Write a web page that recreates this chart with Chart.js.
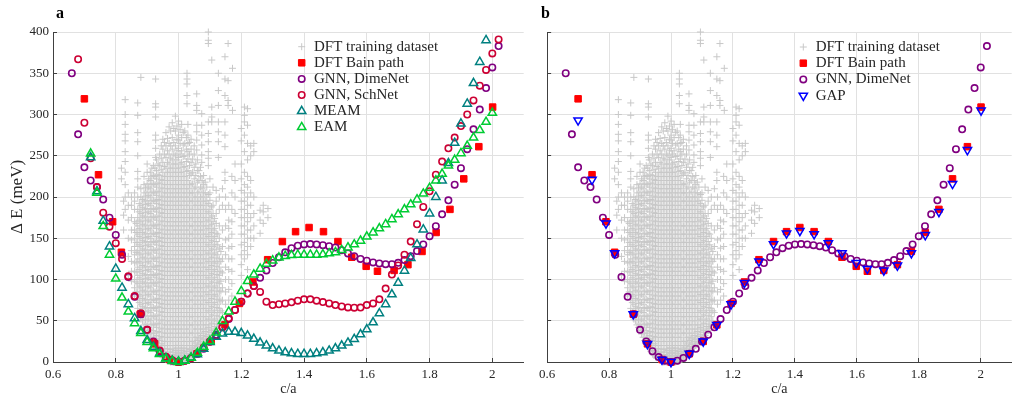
<!DOCTYPE html>
<html><head><meta charset="utf-8">
<script src="https://cdn.jsdelivr.net/npm/chart.js@4.4.1/dist/chart.umd.min.js"></script>
<style>
html,body{margin:0;padding:0;background:#fff;overflow:hidden;width:1013px;height:398px}
#ca{position:absolute;left:0;top:0}
#cb{position:absolute;left:530px;top:0}
</style></head><body>
<canvas id="ca" width="530" height="398"></canvas>
<canvas id="cb" width="488" height="398"></canvas>
<script>
// ---------------- data ----------------
const xTickValues = [0.6, 0.8, 1.0, 1.2, 1.4, 1.6, 1.8, 2.0];
const xTickLabels = ['0.6', '0.8', '1', '1.2', '1.4', '1.6', '1.8', '2'];
const yTickValues = [0, 50, 100, 150, 200, 250, 300, 350, 400];
const yTickLabels = ['0', '50', '100', '150', '200', '250', '300', '350', '400'];

const bainX = [0.70,0.745,0.79,0.818,0.878,0.924,0.971,1.0,1.059,1.104,1.148,1.194,1.237,1.284,1.331,1.373,1.416,1.462,1.508,1.552,1.598,1.634,1.687,1.731,1.776,1.821,1.865,1.909,1.957,2.001];
const bainY = [319,227,170,133,58,22,3,0,10,25,45,71,97,124,146,158,163,158,146,127,116,110,111,118,134,157,185,222,261,309];
const gapY  = [293,221,168,132,58,22,3,0,10,25,45,70,96,122,143,156,159,155,144,132,120,113,111,117,132,154,182,216,257,305];

const dimenetX = [0.66,0.68,0.70,0.72,0.74,0.76,0.78,0.80,0.82,0.84,0.86,0.88,0.90,0.92,0.94,0.96,0.98,1.00,1.02,1.04,1.06,1.08,1.10,1.12,1.14,1.16,1.18,1.20,1.22,1.24,1.26,1.28,1.30,1.32,1.34,1.36,1.38,1.40,1.42,1.44,1.46,1.48,1.50,1.52,1.54,1.56,1.58,1.60,1.62,1.64,1.66,1.68,1.70,1.72,1.74,1.76,1.78,1.80,1.82,1.84,1.86,1.88,1.90,1.92,1.94,1.96,1.98,2.00,2.02];
const dimenetY = [350,276,236,220,212,197,175,154,130,103,79,58,39,25,13,6,1.6,0,1.6,5,10,16,25,33,42,52,63,73,83,92,102,111,120,127,133,138,141,142.5,143,142.5,141.6,140.4,138.8,135.6,131.6,128.3,125,122.7,120.7,119.5,118.6,118.6,120.2,123.5,128.3,134.4,142.5,152.5,164.6,179,196,215,235,258,282,306,332,357,383];

const schnetX = [0.68,0.70,0.72,0.74,0.76,0.78,0.80,0.82,0.84,0.86,0.88,0.90,0.92,0.94,0.96,0.98,1.00,1.02,1.04,1.06,1.08,1.10,1.12,1.14,1.16,1.18,1.20,1.22,1.24,1.26,1.28,1.30,1.32,1.34,1.36,1.38,1.40,1.42,1.44,1.46,1.48,1.50,1.52,1.54,1.56,1.58,1.60,1.62,1.64,1.66,1.68,1.70,1.72,1.74,1.76,1.78,1.80,1.82,1.84,1.86,1.88,1.90,1.92,1.94,1.96,1.98,2.00,2.02];
const schnetY = [367,290,247,212,181,164,144,125,104,80,59,39,24,14,6.5,2,0,1.5,4.5,10.5,17.5,24.6,31.5,42,53,63,73,83,92,85,73,69,70,71,72.3,74.3,76,76,74.3,72.6,71,69,67.4,66.2,65.8,66,69,71,76,89,106,117,130,146,167,188,207,227,243,259,272,286,300,317,335,354,374,391];

const meamX = [0.72,0.74,0.76,0.78,0.80,0.82,0.84,0.86,0.88,0.90,0.92,0.94,0.96,0.98,1.00,1.02,1.04,1.06,1.08,1.10,1.12,1.14,1.16,1.18,1.20,1.22,1.24,1.26,1.28,1.30,1.32,1.34,1.36,1.38,1.40,1.42,1.44,1.46,1.48,1.50,1.52,1.54,1.56,1.58,1.60,1.62,1.64,1.66,1.68,1.70,1.72,1.74,1.76,1.78,1.80,1.82,1.84,1.86,1.88,1.90,1.92,1.94,1.96,1.98];
const meamY = [248,207,171,140,113,90,70,53,37.5,26.6,18.5,10.5,4.5,1.6,0.5,1.6,5.2,9.3,16,24,30.5,34.5,36.5,36.5,35,32,28,23.5,20,16.5,13.7,11.7,10.5,9.7,9.7,9.7,10.5,11.7,13.7,16.5,19.8,23.4,27.8,33.5,39.5,48,59,70,82,96,110.6,126,142.5,160.6,180,200,220,241,265.5,289,313,338,363.6,390];

const eamX = [0.72,0.74,0.76,0.78,0.80,0.82,0.84,0.86,0.88,0.90,0.92,0.94,0.96,0.98,1.00,1.02,1.04,1.06,1.08,1.10,1.12,1.14,1.16,1.18,1.20,1.22,1.24,1.26,1.28,1.30,1.32,1.34,1.36,1.38,1.40,1.42,1.44,1.46,1.48,1.50,1.52,1.54,1.56,1.58,1.60,1.62,1.64,1.66,1.68,1.70,1.72,1.74,1.76,1.78,1.80,1.82,1.84,1.86,1.88,1.90,1.92,1.94,1.96,1.98,2.00];
const eamY = [252.6,205,164.6,130,101,78,61,47,35,24,16.5,9.6,4,1,0,1.5,5,11,18.5,25.4,35.5,49.6,61,73,86,98,106,113,119,123,126.5,128.5,129.5,130,130,130,130,130.5,131.6,133,135.6,138.8,142.5,147,152,157,162,167,173,179,185,191,197,204,211,220,228,238,245,253,262,272,281,291,302];

// DFT training dataset, read column by column: [c/a, [ΔE values]]
const trainingColumns = [
[0.818,[235,222]],
[0.825,[160,178,195]],
[0.830,[318,300,288,276,268,255,243,230,215,200,185]],
[0.840,[105,128,150,172,190,205]],
[0.850,[98,110,122,135,148,160,175,190,200]],
[0.860,[80,90,100,110,120,130,140,150,160,170,185,195,205]],
[0.870,[65,75,85,95,105,115,125,135,145,155,165,175,185,200,212,222,231,250,267,278,299,314]],
[0.880,[52,60,70,80,90,100,110,120,130,140,150,160,170,180,190,200,210,345]],
[0.890,[45,55,65,75,85,95,105,115,125,135,145,155,165,175,185,195,205,215,225]],
[0.900,[38,46,56,66,76,86,96,106,116,126,136,146,156,166,176,186,196,206,216,230,240]],
[0.910,[30,40,50,60,70,80,90,100,110,120,130,140,150,160,170,180,190,200,210,220,230]],
[0.920,[22,30,38,46,56,66,76,86,96,106,116,126,136,146,156,166,176,186,196,206,216,226,238]],
[0.927,[248,259,269,275,297,309,313,343]],
[0.930,[16,24,32,42,52,62,72,82,92,102,112,122,132,142,152,162,172,182,192,202,212,222,232,245]],
[0.940,[10,17,26,36,46,56,66,76,86,96,106,116,126,136,146,156,166,176,186,196,206,216,226,238,252]],
[0.950,[6,12,20,30,40,50,60,70,80,90,100,110,120,130,140,150,160,170,180,190,200,210,220,230,242,258,270]],
[0.960,[3,9,16,25,35,45,55,65,75,85,95,105,115,125,135,145,155,165,175,185,195,205,215,225,235,248,262,278]],
[0.970,[1,6,12,20,30,40,50,60,70,80,90,100,110,120,130,140,150,160,170,180,190,200,210,220,230,240,252,265,285]],
[0.980,[0,4,9,16,25,35,45,55,65,75,85,95,105,115,125,135,145,155,165,175,185,195,205,215,225,235,245,258,272,290]],
[0.990,[0,3,8,14,20,30,40,50,60,70,80,90,100,110,120,130,140,150,160,170,180,190,200,210,220,230,240,250,262,280,298]],
[1.000,[0,4,10,16,25,35,45,55,65,75,85,95,105,115,125,135,145,155,165,175,185,195,205,215,225,235,248,259,269,275,292]],
[1.010,[0,3,8,14,20,30,40,50,60,70,80,90,100,110,120,130,140,150,160,170,180,190,200,210,220,230,242,256,272,288]],
[1.020,[1,5,10,16,25,35,45,55,65,75,85,95,105,115,125,135,145,155,165,175,185,195,205,215,225,237,250,265,280]],
[1.027,[313,323,337,343,350]],
[1.030,[2,7,13,20,30,40,50,60,70,80,90,100,110,120,130,140,150,160,170,180,190,200,210,220,232,246,255,265,275,288]],
[1.040,[5,10,16,25,35,45,55,65,75,85,95,105,115,125,135,145,155,165,175,185,195,205,215,228,242,258,270]],
[1.050,[9,14,20,30,40,50,60,70,80,90,100,110,120,130,140,150,160,170,180,190,200,210,222,236,252,262]],
[1.058,[257,269,279,287,305,311,325]],
[1.060,[13,19,26,35,45,55,65,75,85,95,105,115,125,135,145,155,165,175,185,195,205,218,232,245]],
[1.070,[17,23,30,40,50,60,70,80,90,100,110,120,130,140,150,160,170,180,190,200,212,225,236]],
[1.074,[242,251,263,275,287,301]],
[1.080,[20,27,35,45,55,65,75,85,95,105,115,125,135,145,155,165,175,185,195,205,215,226]],
[1.090,[24,31,40,50,60,70,80,90,100,110,120,130,140,150,160,170,180,190,200,212]],
[1.095,[238,247,255,267,277,291,386,390,400]],
[1.100,[28,36,45,55,65,75,85,95,105,115,125,135,145,155,165,175,185,196,205,222]],
[1.106,[291,297,309,366]],
[1.110,[32,40,50,60,70,80,90,100,110,120,130,140,150,160,170,180,190,212]],
[1.120,[38,46,56,66,76,86,96,106,116,126,136,146,156,168,180,195,208]],
[1.127,[248,267,279,291,311,329,350]],
[1.130,[45,55,65,75,85,95,105,115,125,138,150,165,185,200]],
[1.140,[60,75,90,108,125,140,160,190,210]],
[1.148,[220,230,261,275,291,323,343,370]],
[1.150,[70,85,100,115,130,148,165,185,200]],
[1.158,[311,317,341,386]],
[1.160,[75,88,100,112,125,138,150,162,172,190]],
[1.170,[80,95,110,125,140,155,170,185,205,225]],
[1.172,[305,356]],
[1.180,[180,200,220,240]],
[1.200,[105,118,130,142,155,165,175,185,195,208,222,240,268,283]],
[1.210,[125,135,145,155,165,175,185,195,205,215,230,255,275,291,299,309]],
[1.220,[112,130,140,150,160,170,180,190,200,212,225,245,265,287,307]],
[1.230,[140,150,160,175,190,205,220,250,262]],
[1.240,[150,165,180,200,255,265]],
[1.260,[156,172,184]],
[1.270,[168,182,190]],
[1.285,[175,186]],
// denser core, in-between columns
[0.865,[85,97,109,121,133,145,157,168]],
[0.875,[60,72,82,92,102,112,122,132,142,152,162,172,182,192]],
[0.885,[50,57,67,77,87,97,107,117,127,137,147,157,167,177,187,197]],
[0.895,[42,51,61,71,81,91,101,111,121,131,141,151,161,171,181,191,201,211]],
[0.905,[34,42,52,62,72,82,92,102,112,122,132,142,152,162,172,182,192,202,212,222]],
[0.915,[26,35,45,55,65,75,85,95,105,115,125,135,145,155,165,175,185,195,205,215,225,235]],
[0.925,[19,27,35,45,55,65,75,85,95,105,115,125,135,145,155,165,175,185,195,205,215,225,235]],
[0.935,[13,20,28,37,47,57,67,77,87,97,107,117,127,137,147,157,167,177,187,197,207,217,227,240]],
[0.945,[8,14,22,31,41,51,61,71,81,91,101,111,121,131,141,151,161,171,181,191,201,211,221,233,247,262]],
[0.955,[5,9,16,25,35,45,55,65,75,85,95,105,115,125,135,145,155,165,175,185,195,205,215,225,237,252,266]],
[0.965,[2,6,12,20,30,40,50,60,70,80,90,100,110,120,130,140,150,160,170,180,190,200,210,220,230,242,256,271]],
[0.975,[0,3,8,15,25,35,45,55,65,75,85,95,105,115,125,135,145,155,165,175,185,195,205,215,225,235,247,262,280]],
[0.985,[0,2,6,12,20,30,40,50,60,70,80,90,100,110,120,130,140,150,160,170,180,190,200,210,220,230,240,252,266,283]],
[0.995,[0,2,6,11,17,25,35,45,55,65,75,85,95,105,115,125,135,145,155,165,175,185,195,205,215,225,235,245,256,270,286]],
[1.005,[0,2,6,12,20,30,40,50,60,70,80,90,100,110,120,130,140,150,160,170,180,190,200,210,220,230,240,252,265,282]],
[1.015,[0,2,6,11,17,25,35,45,55,65,75,85,95,105,115,125,135,145,155,165,175,185,195,205,215,225,236,249,263,278]],
[1.025,[1,4,8,13,20,30,40,50,60,70,80,90,100,110,120,130,140,150,160,170,180,190,200,210,220,231,243,258,272]],
[1.035,[3,8,15,25,35,45,55,65,75,85,95,105,115,125,135,145,155,165,175,185,195,205,215,226,238,252,266]],
[1.045,[7,12,18,25,35,45,55,65,75,85,95,105,115,125,135,145,155,165,175,185,195,205,216,230,246]],
[1.055,[11,16,23,30,40,50,60,70,80,90,100,110,120,130,140,150,160,170,180,190,200,212,226,240]],
[1.065,[15,21,28,35,45,55,65,75,85,95,105,115,125,135,145,155,165,175,185,195,206,220,232]],
[1.075,[18,25,32,40,50,60,70,80,90,100,110,120,130,140,150,160,170,180,190,200,210,220]],
[1.085,[22,29,37,45,55,65,75,85,95,105,115,125,135,145,155,165,175,185,195,205,218]],
[1.095,[26,33,42,52,62,72,82,92,102,112,122,132,142,152,162,172,182,192,203]],
[1.105,[30,38,47,57,67,77,87,97,107,117,127,137,147,157,167,177,188]],
[1.115,[35,43,52,62,72,82,92,102,112,122,132,142,152,162,174]],
[1.125,[41,50,60,70,80,90,100,110,120,130,142,155]],
[1.135,[50,62,74,86,98,110,122,134]]
];

// ---------------- build ----------------
const FONT = "'Liberation Serif', 'Times New Roman', serif";
Chart.defaults.font.family = FONT;
Chart.defaults.color = '#262626';

function pts(xs, ys) { return xs.map((x, i) => ({x: x, y: ys[i]})); }
const trainingPoints = [];
trainingColumns.forEach(c => c[1].forEach(y => trainingPoints.push({x: c[0], y: y})));

function ds(label, data, style, color, fill, r, bw, rank, rot) {
  return {
    label: label, data: data, pointStyle: style, pointRadius: r, pointHoverRadius: r,
    pointBorderWidth: bw, pointBorderColor: color, pointBackgroundColor: fill,
    pointRotation: rot || 0, showLine: false, clip: false, legendRank: rank
  };
}
const NONE = 'rgba(0,0,0,0)';
const dTrain = () => ds('DFT training dataset', trainingPoints, 'cross', '#c8c8c8', NONE, 3.5, 1, 0);
const dBain = () => ds('DFT Bain path', pts(bainX, bainY), 'rect', '#ff0000', '#ff0000', 4.6, 1, 1);
const dDime = () => ds('GNN, DimeNet', pts(dimenetX, dimenetY), 'circle', '#800080', NONE, 3.2, 1.6, 2);
const dSch = () => ds('GNN, SchNet', pts(schnetX, schnetY), 'circle', '#cc0033', NONE, 3.2, 1.6, 3);
const dMeam = () => ds('MEAM', pts(meamX, meamY), 'triangle', '#008080', NONE, 4.8, 1.5, 4);
const dEam = () => ds('EAM', pts(eamX, eamY), 'triangle', '#00cc33', NONE, 4.8, 1.5, 5);
const dGap = () => ds('GAP', pts(bainX, gapY), 'triangle', '#0000ff', NONE, 4.8, 1.5, 3, 180);

function drawMarker(ctx, d, x, y) {
  const r = d.pointRadius, rot = (d.pointRotation || 0) * Math.PI / 180;
  ctx.lineWidth = d.pointBorderWidth; ctx.strokeStyle = d.pointBorderColor; ctx.fillStyle = d.pointBackgroundColor;
  ctx.beginPath();
  if (d.pointStyle === 'cross') {
    ctx.moveTo(x - r, y); ctx.lineTo(x + r, y); ctx.moveTo(x, y - r); ctx.lineTo(x, y + r); ctx.stroke(); return;
  } else if (d.pointStyle === 'rect') {
    const s = r * Math.SQRT1_2; ctx.rect(x - s, y - s, 2 * s, 2 * s);
  } else if (d.pointStyle === 'circle') {
    ctx.arc(x, y, r, 0, Math.PI * 2);
  } else {
    let a = rot;
    ctx.moveTo(x + Math.sin(a) * r, y - Math.cos(a) * r);
    a += 2 * Math.PI / 3; ctx.lineTo(x + Math.sin(a) * r, y - Math.cos(a) * r);
    a += 2 * Math.PI / 3; ctx.lineTo(x + Math.sin(a) * r, y - Math.cos(a) * r);
    ctx.closePath();
  }
  ctx.fill(); ctx.stroke();
}

const overlay = {
  id: 'overlay',
  afterDraw(chart, args, o) {
    const ctx = chart.ctx;
    ctx.save();
    ctx.fillStyle = '#000';
    ctx.font = 'bold 16px ' + FONT;
    ctx.textBaseline = 'alphabetic'; ctx.textAlign = 'left';
    ctx.fillText(o.panel, o.panelX, o.panelY);
    const items = chart.data.datasets.slice().sort((a, b) => a.legendRank - b.legendRank);
    items.forEach((d, i) => {
      const y = o.legendY + i * o.legendDY;
      drawMarker(ctx, d, o.markerX, y);
      ctx.fillStyle = '#262626'; ctx.font = '15px ' + FONT; ctx.textBaseline = 'middle';
      ctx.fillText(d.label, o.textX, y);
    });
    ctx.restore();
  }
};

function options(yWidth, showYLabels, padRight, ov) {
  return {
    responsive: false, animation: false, events: [], devicePixelRatio: 1,
    layout: {padding: {left: 0, top: 32, right: padRight, bottom: 0}},
    plugins: {legend: {display: false}, title: {display: false}, tooltip: {enabled: false}, overlay: ov},
    scales: {
      x: {
        type: 'linear', min: 0.6, max: 2.1,
        afterFit: s => { s.height = 36; },
        afterBuildTicks: s => { s.ticks = xTickValues.map(v => ({value: v})); },
        ticks: {padding: 9, autoSkip: false, maxRotation: 0, font: {size: 13}, color: '#262626',
                callback: (v, i) => xTickLabels[i]},
        grid: {color: '#e1e1e1', lineWidth: 1, drawTicks: true, tickLength: -4, tickColor: '#404040', tickWidth: 1},
        border: {color: '#404040', width: 1},
        title: {display: true, text: 'c/a', font: {size: 14}, color: '#262626', padding: {top: 0, bottom: 0}}
      },
      y: {
        type: 'linear', min: 0, max: 400,
        afterFit: s => { s.width = yWidth; },
        afterBuildTicks: s => { s.ticks = yTickValues.map(v => ({value: v})); },
        ticks: {display: showYLabels, padding: 8, font: {size: 13}, color: '#262626',
                callback: (v, i) => yTickLabels[i]},
        grid: {color: '#e1e1e1', lineWidth: 1, drawTicks: true, tickLength: -4, tickColor: '#404040', tickWidth: 1},
        border: {color: '#404040', width: 1},
        title: {display: showYLabels, text: 'Δ E (meV)', font: {size: 17}, color: '#262626', padding: {top: 7, bottom: 0}}
      }
    }
  };
}

new Chart(document.getElementById('ca'), {
  type: 'scatter',
  data: {datasets: [dEam(), dMeam(), dSch(), dDime(), dBain(), dTrain()]},
  options: options(53, true, 1, {panel: 'a', panelX: 56, panelY: 18, markerX: 301.7, textX: 314, legendY: 46.7, legendDY: 16.1}),
  plugins: [overlay]
});

new Chart(document.getElementById('cb'), {
  type: 'scatter',
  data: {datasets: [dGap(), dDime(), dBain(), dTrain()]},
  options: options(10, false, 3, {panel: 'b', panelX: 11, panelY: 18, markerX: 273.3, textX: 285.7, legendY: 47, legendDY: 16.2}),
  plugins: [overlay]
});
</script>
</body></html>
